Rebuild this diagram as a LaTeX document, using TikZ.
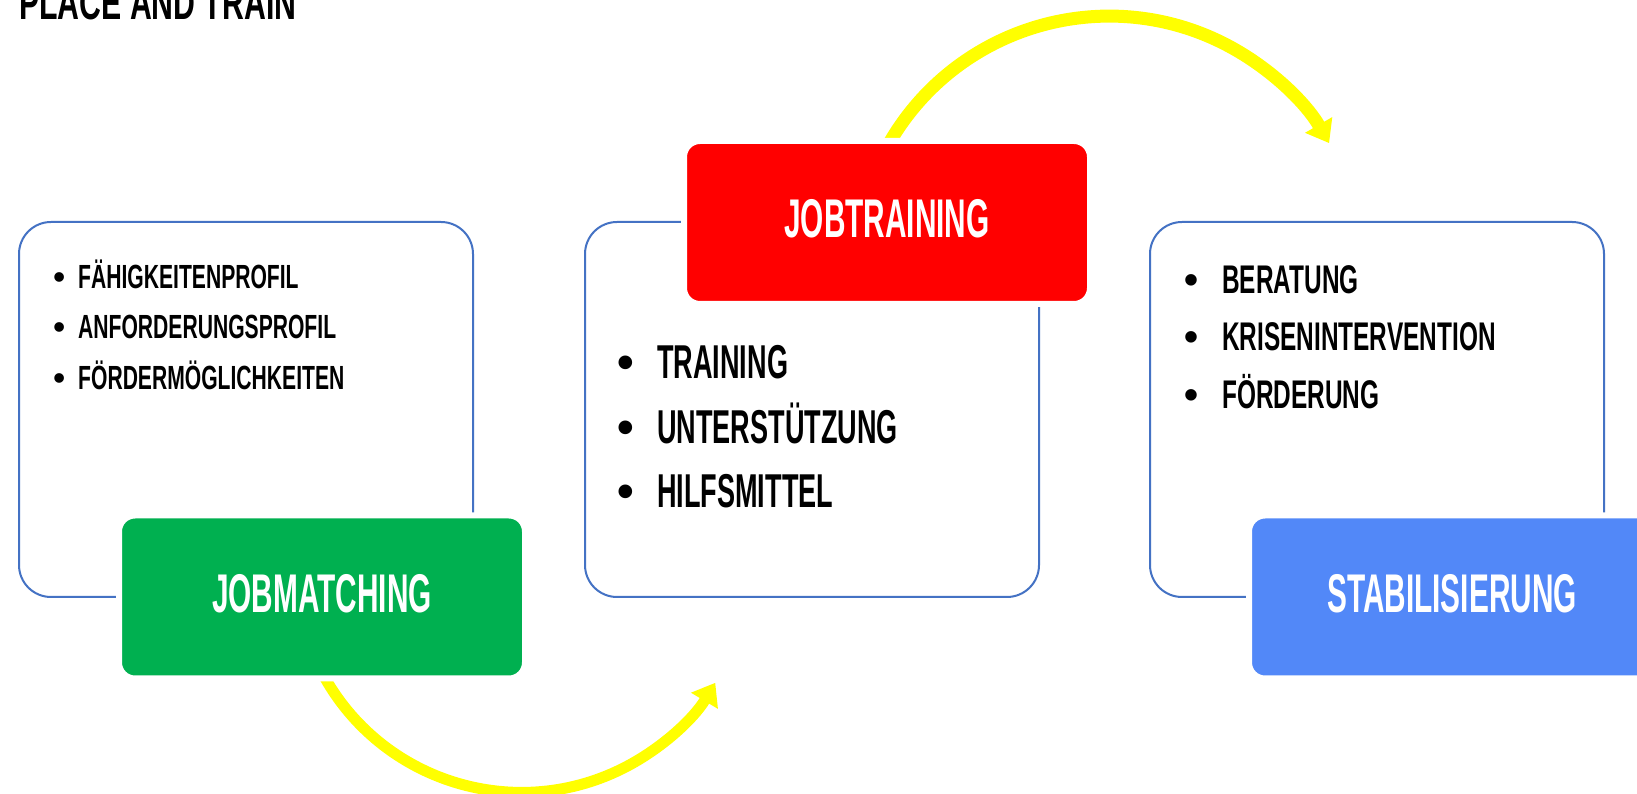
\documentclass[tikz,border=0pt]{standalone}
\usepackage{fontspec}
\usepackage{tikz}
\usetikzlibrary{arrows.meta}
\newfontfamily\leftfont[FakeStretch=0.63]{Liberation Sans}
\newfontfamily\midfont[FakeStretch=0.57]{Liberation Sans}
\newfontfamily\rightfont[FakeStretch=0.61]{Liberation Sans}
\newfontfamily\headfont[FakeStretch=0.547]{Liberation Sans}
\newfontfamily\bulfont{Liberation Sans}
\newcommand{\bul}[1]{\llap{{\bulfont\textbullet}\hspace{#1}}}
\definecolor{frameblue}{RGB}{68, 114, 196}
\definecolor{matchgreen}{RGB}{0, 176, 80}
\definecolor{trainred}{RGB}{255, 0, 0}
\definecolor{stabblue}{RGB}{82, 136, 248}
\definecolor{flowyellow}{RGB}{255, 255, 0}

\begin{document}
\begin{tikzpicture}[x=1pt, y=1pt,
    panel/.style={draw=frameblue, line width=2pt, rounded corners=32pt, fill=white,
        minimum width=454pt, minimum height=375pt, inner sep=0pt},
    phase/.style={fill=#1, draw=white, line width=6pt, rounded corners=16pt,
        minimum width=406pt, minimum height=163pt, text depth=8pt, inner sep=0pt,
        text=white, font=\headfont\bfseries\fontsize{54.5}{60}\selectfont},
    item/.style={anchor=base west, inner sep=0pt, font=#1\bfseries},
    flow/.style={draw=flowyellow, line width=#1, -{Triangle[width=30pt,length=21pt]}}]
\useasboundingbox (0,0) rectangle (1637,794);
\fill[white] (0,0) rectangle (1637,794);

% Title
\node[item=\leftfont\fontsize{48}{48}\selectfont] (title) at (19,774) {PLACE AND TRAIN};

% Panels
\node[panel] (pm) at (246,384.5) {};
\node[panel] (pt) at (812,384.5) {};
\node[panel] (ps) at (1377,384.5) {};

% Arrows between phases
\node[phase=trainred, fill opacity=0, draw opacity=0] (jt0) at (887,571.5) {};
\draw[flow=13pt] ([yshift=-9pt]jt0.north) arc[start angle=151, end angle=30, radius=254];
\node[phase=matchgreen, fill opacity=0, draw opacity=0] (jm0) at (322,197) {};
\draw[flow=11pt] ([yshift=9pt]jm0.south) arc[start angle=208, end angle=329, radius=226];

% Phases
\node[phase=matchgreen] (jm) at (322,197) {JOBMATCHING};
\node[phase=trainred] (jt) at (887,571.5) {JOBTRAINING};
\node[phase=stabblue] (js) at (1452,197) {STABILISIERUNG};

% Items
\node[item=\leftfont\fontsize{33.5}{34}\selectfont] (m1) at (78,505) {\bul{13pt}FÄHIGKEITENPROFIL};
\node[item=\leftfont\fontsize{33.5}{34}\selectfont] (m2) at (78,455) {\bul{13pt}ANFORDERUNGSPROFIL};
\node[item=\leftfont\fontsize{33.5}{34}\selectfont] (m3) at (78,404) {\bul{13pt}FÖRDERMÖGLICHKEITEN};

\node[item=\midfont\fontsize{47.5}{48}\selectfont] (t1) at (657,415) {\bul{22.7pt}TRAINING};
\node[item=\midfont\fontsize{47.5}{48}\selectfont] (t2) at (657,350) {\bul{22.7pt}UNTERSTÜTZUNG};
\node[item=\midfont\fontsize{47.5}{48}\selectfont] (t3) at (657,286) {\bul{22.7pt}HILFSMITTEL};

\node[item=\rightfont\fontsize{40}{40}\selectfont] (s1) at (1222,500) {\bul{24pt}BERATUNG};
\node[item=\rightfont\fontsize{40}{40}\selectfont] (s2) at (1222,443) {\bul{24pt}KRISENINTERVENTION};
\node[item=\rightfont\fontsize{40}{40}\selectfont] (s3) at (1222,385) {\bul{24pt}FÖRDERUNG};
\end{tikzpicture}
\end{document}
